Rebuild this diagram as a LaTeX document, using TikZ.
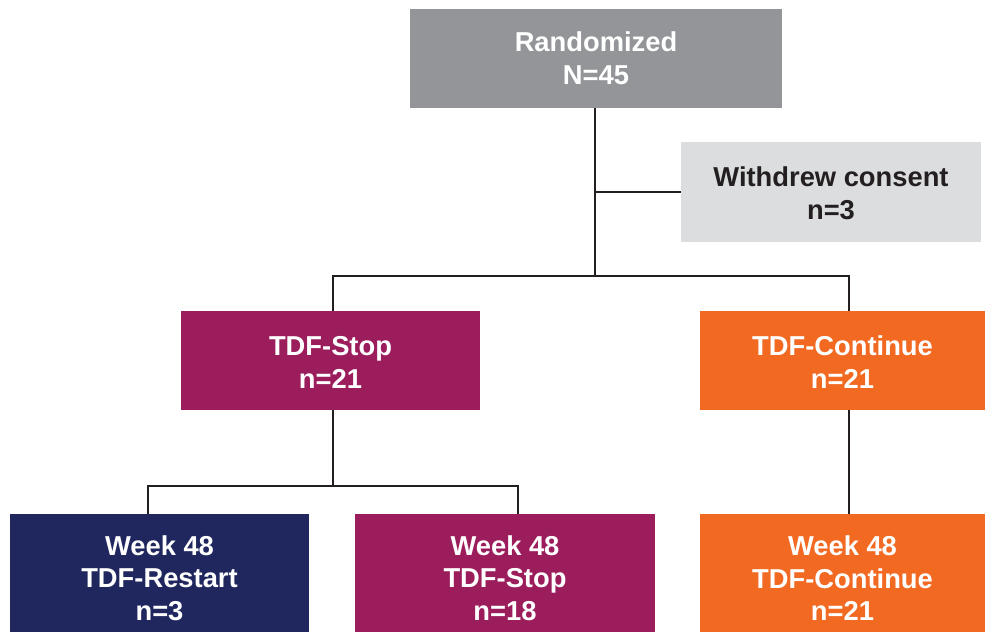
\documentclass[tikz,border=0pt]{standalone}
\usepackage{fontspec}
\setmainfont{Liberation Sans}
\definecolor{cgray}{HTML}{939598}
\definecolor{clight}{HTML}{DCDDDF}
\definecolor{cpurple}{HTML}{9B1D5C}
\definecolor{corange}{HTML}{F26922}
\definecolor{cnavy}{HTML}{1F275E}
\definecolor{cline}{HTML}{231F20}
\newcommand{\lowstrut}{\rule{0pt}{22.5pt}}
\begin{document}
\begin{tikzpicture}[x=0.75pt,y=-0.75pt,
  box/.style={rectangle,inner sep=0pt,align=center,text=white,
    font=\fontsize{20.5}{24.5}\selectfont\bfseries},
  conn/.style={draw=cline,line width=1.1pt}]
\path[use as bounding box,fill=white] (0,0) rectangle (986,634);
\node[box,fill=cgray,minimum width=279pt,minimum height=74.25pt] (rand) at (596,58.5) {Randomized\\N=45};
\node[box,fill=clight,text=cline,minimum width=225pt,minimum height=75pt] (wd) at (831,192) {\rule{0pt}{17pt}Withdrew consent\\n=3};
\node[box,fill=cpurple,minimum width=224.25pt,minimum height=74.25pt] (stop) at (330.5,360.5) {\rule{0pt}{17.5pt}TDF-Stop\\n=21};
\node[box,fill=corange,minimum width=213.75pt,minimum height=74.25pt] (cont) at (842.5,360.5) {\rule{0pt}{17.5pt}TDF-Continue\\n=21};
\node[box,fill=cnavy,minimum width=224.25pt,minimum height=88.5pt] (r48) at (159.5,573) {\lowstrut Week 48\\TDF-Restart\\n=3};
\node[box,fill=cpurple,minimum width=225pt,minimum height=88.5pt] (s48) at (505,573) {\lowstrut Week 48\\TDF-Stop\\n=18};
\node[box,fill=corange,minimum width=213.75pt,minimum height=88.5pt] (c48) at (842.5,573) {\lowstrut Week 48\\TDF-Continue\\n=21};
\coordinate (j1) at (595,192);
\coordinate (j2) at (595,276);
\coordinate (stopt) at (333,311);
\coordinate (contt) at (849,311);
\coordinate (stopb) at (333,410);
\coordinate (j3) at (333,486);
\coordinate (r48t) at (148,514);
\coordinate (s48t) at (518,514);
\coordinate (contb) at (849,410);
\coordinate (c48t) at (849,514);
\draw[conn] (j2 |- rand.south) -- (j2);
\draw[conn] (j1) -- (wd.west);
\draw[conn] (j2) -| (stopt);
\draw[conn] (j2) -| (contt);
\draw[conn] (stopb) -- (j3);
\draw[conn] (j3) -| (r48t);
\draw[conn] (j3) -| (s48t);
\draw[conn] (contb) -- (c48t);
\end{tikzpicture}
\end{document}
